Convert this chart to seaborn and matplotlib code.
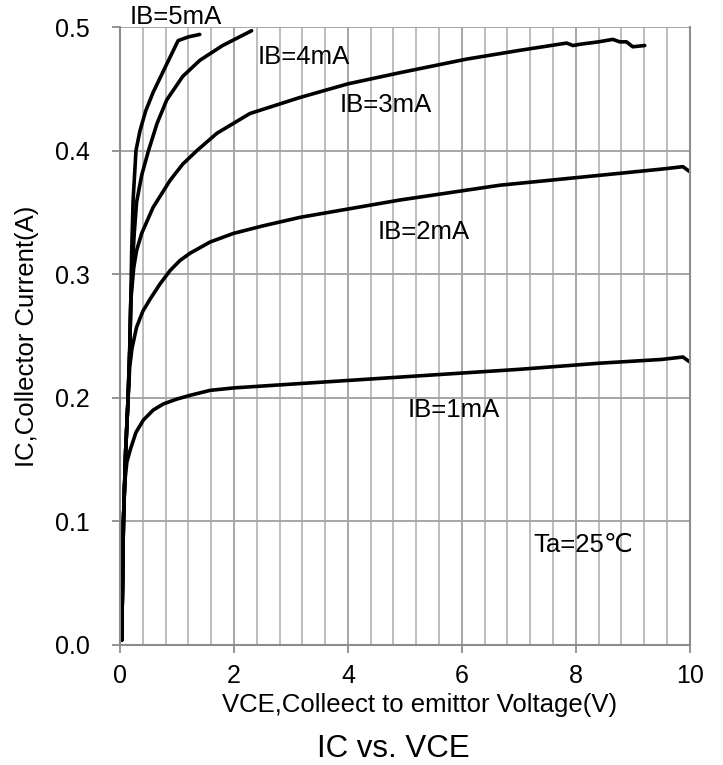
import numpy as np
import pandas as pd
import matplotlib
matplotlib.use('Agg')
import matplotlib.pyplot as plt
from matplotlib.ticker import MultipleLocator, FormatStrFormatter
import seaborn as sns

# IC-VCE output curves
ib1_v = [0.03, 0.06, 0.08, 0.12, 0.18, 0.28, 0.41, 0.58, 0.76, 1.0, 1.23, 1.58, 2.0, 3.16, 5.0, 7.0, 8.42, 9.5, 9.88, 10.0]
ib1_i = [0.004, 0.10, 0.13, 0.148, 0.158, 0.172, 0.182, 0.190, 0.195, 0.199, 0.202, 0.206, 0.208, 0.2115, 0.217, 0.223, 0.228, 0.231, 0.233, 0.229]

ib2_v = [0.03, 0.06, 0.10, 0.14, 0.17, 0.21, 0.29, 0.4, 0.53, 0.7, 0.88, 1.05, 1.23, 1.58, 1.99, 2.5, 3.16, 4.91, 6.67, 8.42, 9.5, 9.88, 10.0]
ib2_i = [0.004, 0.10, 0.158, 0.198, 0.225, 0.240, 0.257, 0.270, 0.280, 0.292, 0.303, 0.311, 0.317, 0.326, 0.333, 0.339, 0.346, 0.360, 0.372, 0.380, 0.385, 0.387, 0.383]

ib3_v = [0.03, 0.06, 0.10, 0.14, 0.17, 0.19, 0.24, 0.29, 0.38, 0.58, 0.88, 1.1, 1.35, 1.7, 2.28, 3.16, 4.0, 4.91, 6.08, 7.0, 7.84, 7.95, 8.07, 8.4, 8.65, 8.77, 8.89, 9.0, 9.21]
ib3_i = [0.004, 0.10, 0.158, 0.198, 0.238, 0.279, 0.305, 0.319, 0.333, 0.354, 0.376, 0.389, 0.400, 0.414, 0.430, 0.443, 0.454, 0.463, 0.474, 0.481, 0.487, 0.485, 0.486, 0.488, 0.490, 0.488, 0.488, 0.484, 0.485]

ib4_v = [0.03, 0.06, 0.10, 0.14, 0.17, 0.19, 0.22, 0.25, 0.29, 0.38, 0.50, 0.65, 0.82, 1.1, 1.40, 1.8, 2.31]
ib4_i = [0.004, 0.10, 0.158, 0.198, 0.238, 0.280, 0.310, 0.333, 0.358, 0.380, 0.400, 0.422, 0.441, 0.460, 0.473, 0.485, 0.497]

ib5_v = [0.03, 0.06, 0.10, 0.14, 0.17, 0.19, 0.205, 0.23, 0.28, 0.35, 0.45, 0.58, 0.82, 1.02, 1.2, 1.40]
ib5_i = [0.004, 0.10, 0.158, 0.198, 0.238, 0.280, 0.319, 0.360, 0.400, 0.416, 0.432, 0.447, 0.470, 0.489, 0.492, 0.494]

curve_names = ['IB=1mA', 'IB=2mA', 'IB=3mA', 'IB=4mA', 'IB=5mA']
label_v = [5.05, 4.53, 3.86, 2.42, 0.16]
label_i = [0.190, 0.334, 0.437, 0.476, 0.508]

x_ticks = [0, 2, 4, 6, 8, 10]
y_ticks = [0.0, 0.1, 0.2, 0.3, 0.4, 0.5]

curves = pd.concat([
    pd.DataFrame({'VCE': v, 'IC': i, 'curve': name})
    for v, i, name in zip([ib1_v, ib2_v, ib3_v, ib4_v, ib5_v],
                          [ib1_i, ib2_i, ib3_i, ib4_i, ib5_i], curve_names)
])

sns.set_style('white')
plt.rcParams['font.family'] = ['Liberation Sans', 'DejaVu Sans']
plt.rcParams['text.color'] = 'black'
plt.rcParams['axes.labelcolor'] = 'black'
plt.rcParams['xtick.labelcolor'] = 'black'
plt.rcParams['ytick.labelcolor'] = 'black'

fig = plt.figure(figsize=(7.23, 7.65), dpi=100)
ax = fig.add_axes([0.166, 0.1569, 0.788, 0.8078])

# grid first so the curves sit on top
ax.xaxis.set_minor_locator(MultipleLocator(0.4))
ax.set_xticks(x_ticks)
ax.set_yticks(y_ticks)
ax.grid(which='minor', axis='x', color='#bdbdbd', lw=1.4)
ax.grid(which='major', axis='x', color='#a6a6a6', lw=1.4)
ax.grid(which='major', axis='y', color='#a6a6a6', lw=1.4)
ax.set_axisbelow(True)

sns.lineplot(data=curves, x='VCE', y='IC', hue='curve', units='curve',
             estimator=None, sort=False, palette=['black'] * 5,
             lw=2.6, legend=False, ax=ax)
for line in ax.lines:
    line.set_solid_joinstyle('round')
    line.set_solid_capstyle('round')

ax.set_xlim(0, 10)
ax.set_ylim(0, 0.5)
ax.yaxis.set_major_formatter(FormatStrFormatter('%.1f'))

for name, v, i in zip(curve_names, label_v, label_i):
    ax.text(v, i, name, fontsize=18.5, ha='left', va='center', clip_on=False)
ax.text(7.25, 0.081, 'Ta=25℃', fontsize=18.5, ha='left', va='center')

for side in ['left', 'bottom', 'right']:
    ax.spines[side].set_color('#8c8c8c')
    ax.spines[side].set_linewidth(1.5)
ax.spines['top'].set_visible(False)

ax.tick_params(axis='both', which='major', direction='out', length=5.5,
               width=1.3, color='#8c8c8c', labelsize=18)
ax.tick_params(axis='x', which='major', pad=8, bottom=True)
ax.tick_params(axis='y', which='major', pad=16, left=True)
ax.tick_params(which='minor', length=0)

ax.set_xlabel('VCE,Colleect to emittor Voltage(V)', fontsize=18.5)
ax.xaxis.set_label_coords(0.525, (645 - 713) / 623, transform=ax.transAxes)
ax.xaxis.label.set_va('baseline')
ax.set_ylabel('IC,Collector Current(A)', fontsize=18.5, labelpad=12)

fig.text(393.5 / 723, 1 - 757 / 765, 'IC vs. VCE', fontsize=22.5,
         ha='center', va='baseline')

plt.savefig('out.png', dpi=100)
plt.close()
